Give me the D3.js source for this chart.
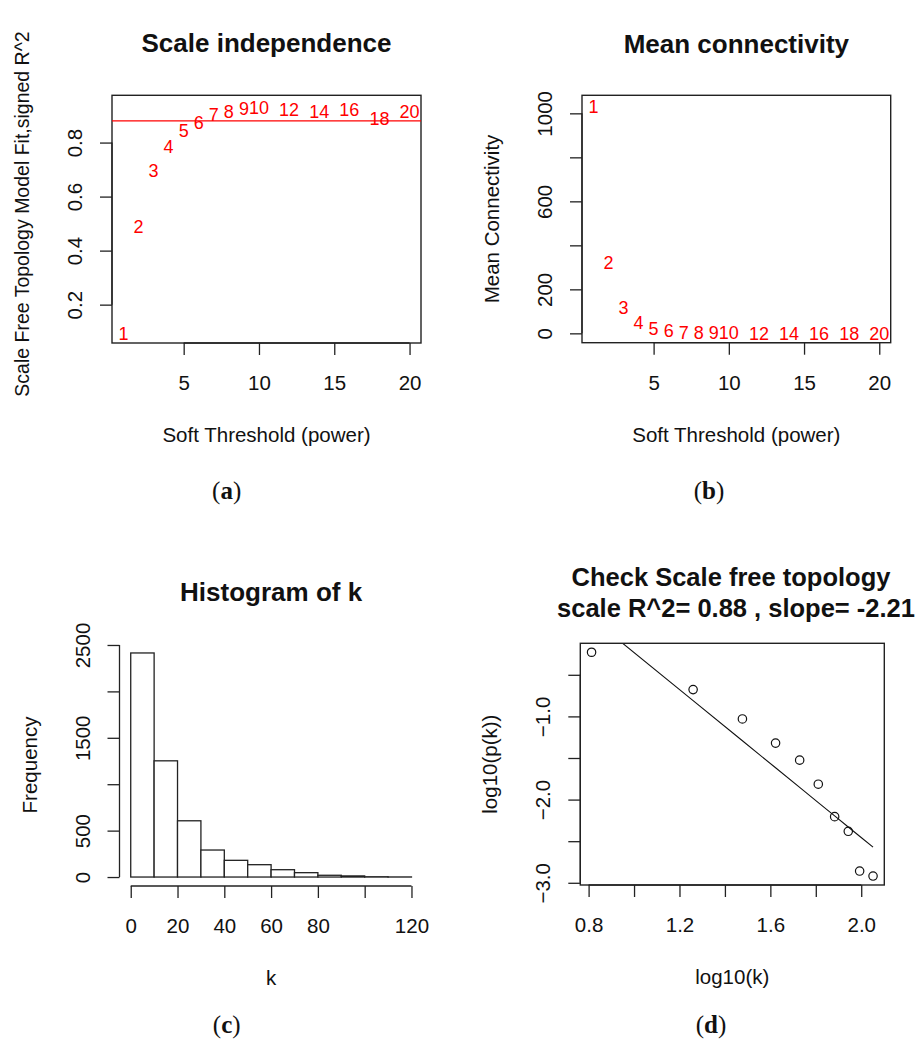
<!DOCTYPE html>
<html>
<head>
<meta charset="utf-8">
<script src="https://cdn.jsdelivr.net/npm/d3@7"></script>
<style>
body { margin: 0; background: #fff; }
svg text { font-family: "Liberation Sans", Arial, sans-serif; fill: #111; }
</style>
</head>
<body>
<svg id="fig" width="917" height="1048"></svg>
<script>
// ---- data ----
// (a) + (b): soft threshold powers
var powers = [1, 2, 3, 4, 5, 6, 7, 8, 9, 10, 12, 14, 16, 18, 20];
var sftFit = [0.091, 0.489, 0.696, 0.786, 0.844, 0.875, 0.903, 0.915, 0.924, 0.930, 0.921, 0.916, 0.921, 0.890, 0.915];
var fitCutoff = 0.88;
var meanK = [1030, 321, 118, 48, 21, 10, 5.2, 2.9, 1.7, 1.1, 0.5, 0.25, 0.14, 0.08, 0.05];

// (c): histogram of k
var histBreaks = [0, 10, 20, 30, 40, 50, 60, 70, 80, 90, 100, 110, 120];
var histCounts = [2414, 1252, 606, 291, 180, 133, 79, 47, 19, 12, 3, 1];

// (d): scale free check
var logK = [0.813, 1.260, 1.477, 1.623, 1.729, 1.811, 1.883, 1.943, 1.993, 2.052];
var logPk = [-0.229, -0.678, -1.031, -1.321, -1.526, -1.815, -2.205, -2.381, -2.859, -2.919];

// tick values / labels
var powerTicks = [5, 10, 15, 20];
var fitTicks = [0.2, 0.4, 0.6, 0.8];
var kTicksB = [0, 200, 400, 600, 800, 1000];
var kLabelsB = [0, 200, 600, 1000];
var histXTicks = [0, 20, 40, 60, 80, 100, 120];
var histXLabels = [0, 20, 40, 60, 80, 120];
var histYTicks = [0, 500, 1000, 1500, 2000, 2500];
var histYLabels = [0, 500, 1500, 2500];
var logKTicks = [0.8, 1.0, 1.2, 1.4, 1.6, 1.8, 2.0];
var logKLabels = [0.8, 1.2, 1.6, 2.0];
var logPTicks = [-3.0, -2.5, -2.0, -1.5, -1.0, -0.5];
var logPLabels = [-3.0, -2.0, -1.0];

var svg = d3.select("#fig");
var ink = "#222";
var axisFont = 20.5;

svg.append("rect").attr("width", 917).attr("height", 1048).attr("fill", "#fff");

// R style axis range: data range padded 4% each side
function rpad(ext) {
    var r = ext[1] - ext[0];
    return [ext[0] - 0.04 * r, ext[1] + 0.04 * r];
}

function contains(arr, v) {
    return arr.some(function (a) { return Math.abs(a - v) < 1e-9; });
}

// bottom axis: ticks going down, labels at fixed baseline, line from first to last tick
function bottomAxis(scale, y0, ticks, labels, fmt) {
    var g = svg.append("g").attr("transform", "translate(0," + y0 + ")");
    g.call(d3.axisBottom(scale).tickValues(ticks).tickSize(12).tickSizeOuter(0)
        .tickFormat(function (d) { return contains(labels, d) ? fmt(d) : ""; }));
    g.select(".domain").remove();
    g.append("line")
        .attr("x1", scale(ticks[0])).attr("x2", scale(ticks[ticks.length - 1]))
        .attr("stroke", ink).attr("stroke-width", 1.3);
    g.selectAll(".tick line").attr("stroke", ink).attr("stroke-width", 1.3);
    g.selectAll(".tick text")
        .attr("y", 47).attr("dy", null)
        .attr("font-size", axisFont).attr("font-family", "Liberation Sans, Arial, sans-serif")
        .attr("fill", "#111");
    return g;
}

// left axis: labels rotated, parallel to the axis
function leftAxis(scale, x0, ticks, labels, fmt) {
    var g = svg.append("g").attr("transform", "translate(" + x0 + ",0)");
    g.call(d3.axisLeft(scale).tickValues(ticks).tickSize(12).tickSizeOuter(0)
        .tickFormat(function (d) { return contains(labels, d) ? fmt(d) : ""; }));
    g.select(".domain").remove();
    g.append("line")
        .attr("y1", scale(ticks[0])).attr("y2", scale(ticks[ticks.length - 1]))
        .attr("stroke", ink).attr("stroke-width", 1.3);
    g.selectAll(".tick line").attr("stroke", ink).attr("stroke-width", 1.3);
    g.selectAll(".tick text")
        .attr("x", 0).attr("y", -30).attr("dy", null)
        .attr("transform", "rotate(-90)")
        .attr("text-anchor", "middle")
        .attr("font-size", axisFont).attr("font-family", "Liberation Sans, Arial, sans-serif")
        .attr("fill", "#111");
    return g;
}

function box(x0, x1, y0, y1) {
    svg.append("rect")
        .attr("x", x0).attr("y", y0)
        .attr("width", x1 - x0).attr("height", y1 - y0)
        .attr("fill", "none").attr("stroke", ink).attr("stroke-width", 1.4);
}

function title(x, y, txt, size) {
    svg.append("text").attr("x", x).attr("y", y)
        .attr("text-anchor", "middle")
        .attr("font-size", size || 26).attr("font-weight", "bold")
        .text(txt);
}

function xLabel(x, y, txt) {
    svg.append("text").attr("x", x).attr("y", y)
        .attr("text-anchor", "middle")
        .attr("font-size", axisFont)
        .text(txt);
}

function yLabel(x, y, txt, size) {
    svg.append("text")
        .attr("transform", "translate(" + x + "," + y + ") rotate(-90)")
        .attr("text-anchor", "middle")
        .attr("font-size", size || axisFont)
        .text(txt);
}

function caption(x, y, letter) {
    var t = svg.append("text").attr("x", x).attr("y", y)
        .attr("text-anchor", "middle")
        .attr("font-size", 25)
        .style("font-family", "'Liberation Serif', 'DejaVu Serif', serif");
    t.append("tspan").text("(");
    t.append("tspan").attr("font-weight", "bold").text(letter);
    t.append("tspan").text(")");
}

var fmtInt = d3.format("d");
var fmt1 = d3.format(".1f");

// ---------------- (a) Scale independence ----------------
var aL = 112, aR = 421, aT = 95.3, aB = 343;
var xA = d3.scaleLinear().domain(rpad(d3.extent(powers))).range([aL, aR]);
var yA = d3.scaleLinear().domain([0.058, 0.975]).range([aB, aT]);

box(aL, aR, aT, aB);
bottomAxis(xA, aB, powerTicks, powerTicks, fmtInt);
leftAxis(yA, aL, fitTicks, fitTicks, fmt1);

svg.append("line")
    .attr("x1", aL).attr("x2", aR)
    .attr("y1", yA(fitCutoff)).attr("y2", yA(fitCutoff))
    .attr("stroke", "#ff0000").attr("stroke-width", 1.3);

svg.append("g").selectAll("text")
    .data(powers)
    .enter().append("text")
    .attr("x", function (d) { return xA(d); })
    .attr("y", function (d, i) { return yA(sftFit[i]); })
    .attr("dy", "0.35em")
    .attr("text-anchor", "middle")
    .attr("font-size", 18)
    .style("fill", "#ff0000")
    .text(function (d) { return d; });

title((aL + aR) / 2, 51.7, "Scale independence");
xLabel((aL + aR) / 2, 441.7, "Soft Threshold (power)");
yLabel(aL - 83, 214, "Scale Free Topology Model Fit,signed R^2", 19.5);
caption(226.7, 499.3, "a");

// ---------------- (b) Mean connectivity ----------------
var bL = 582, bR = 890.7, bT = 95.3, bB = 342.7;
var xB = d3.scaleLinear().domain(rpad(d3.extent(powers))).range([bL, bR]);
var yB = d3.scaleLinear().domain([-42.5, 1082]).range([bB, bT]);

box(bL, bR, bT, bB);
bottomAxis(xB, bB, powerTicks, powerTicks, fmtInt);
leftAxis(yB, bL, kTicksB, kLabelsB, fmtInt);

svg.append("g").selectAll("text")
    .data(powers)
    .enter().append("text")
    .attr("x", function (d) { return xB(d); })
    .attr("y", function (d, i) { return yB(meanK[i]); })
    .attr("dy", "0.35em")
    .attr("text-anchor", "middle")
    .attr("font-size", 18)
    .style("fill", "#ff0000")
    .text(function (d) { return d; });

title((bL + bR) / 2, 53.3, "Mean connectivity");
xLabel((bL + bR) / 2, 441.7, "Soft Threshold (power)");
yLabel(bL - 83, (bT + bB) / 2, "Mean Connectivity");
caption(709, 499.3, "b");

// ---------------- (c) Histogram of k ----------------
var cL = 119.5, cR = 422.7, cT = 644, cB = 886;
var xC = d3.scaleLinear().domain(rpad(d3.extent(histBreaks))).range([cL, cR]);
var yC = d3.scaleLinear().domain(rpad([0, d3.max(histCounts)])).range([cB, cT]);

svg.append("g").selectAll("rect")
    .data(histCounts)
    .enter().append("rect")
    .attr("x", function (d, i) { return xC(histBreaks[i]); })
    .attr("width", function (d, i) { return xC(histBreaks[i + 1]) - xC(histBreaks[i]); })
    .attr("y", function (d) { return yC(d); })
    .attr("height", function (d) { return yC(0) - yC(d); })
    .attr("fill", "#fff")
    .attr("stroke", ink).attr("stroke-width", 1.3);

bottomAxis(xC, cB, histXTicks, histXLabels, fmtInt);
leftAxis(yC, cL, histYTicks, histYLabels, fmtInt);

title((cL + cR) / 2, 600.7, "Histogram of k");
xLabel((cL + cR) / 2, 985, "k");
yLabel(cL - 83, (cT + cB) / 2, "Frequency");
caption(226.7, 1033, "c");

// ---------------- (d) Check scale free topology ----------------
var dL = 580.3, dR = 884.3, dT = 643.3, dB = 885;
var xD = d3.scaleLinear().domain(rpad(d3.extent(logK))).range([dL, dR]);
var yD = d3.scaleLinear().domain(rpad(d3.extent(logPk))).range([dB, dT]);

// least squares fit of log10(p(k)) on log10(k), as in the original plot
var mx = d3.mean(logK), my = d3.mean(logPk);
var sxy = d3.sum(logK, function (v, i) { return (v - mx) * (logPk[i] - my); });
var sxx = d3.sum(logK, function (v) { return (v - mx) * (v - mx); });
var slope = sxy / sxx, icpt = my - slope * mx;

svg.append("clipPath").attr("id", "clipD")
    .append("rect").attr("x", dL).attr("y", dT).attr("width", dR - dL).attr("height", dB - dT);

svg.append("path")
    .datum(logK)
    .attr("clip-path", "url(#clipD)")
    .attr("fill", "none").attr("stroke", "#111").attr("stroke-width", 1.1)
    .attr("d", d3.line()
        .x(function (d) { return xD(d); })
        .y(function (d) { return yD(icpt + slope * d); }));

svg.append("g").selectAll("circle")
    .data(logK)
    .enter().append("circle")
    .attr("cx", function (d) { return xD(d); })
    .attr("cy", function (d, i) { return yD(logPk[i]); })
    .attr("r", 4.2)
    .attr("fill", "none").attr("stroke", "#111").attr("stroke-width", 1.2);

box(dL, dR, dT, dB);
bottomAxis(xD, dB, logKTicks, logKLabels, fmt1);
leftAxis(yD, dL, logPTicks, logPLabels, fmt1);

title(731, 586, "Check Scale free topology", 25.5);
title(736, 616.7, "scale R^2= 0.88 , slope= -2.21", 25.5);
xLabel((dL + dR) / 2, 984, "log10(k)");
yLabel(dL - 83, (dT + dB) / 2, "log10(p(k))");
caption(711, 1033, "d");
</script>
</body>
</html>
